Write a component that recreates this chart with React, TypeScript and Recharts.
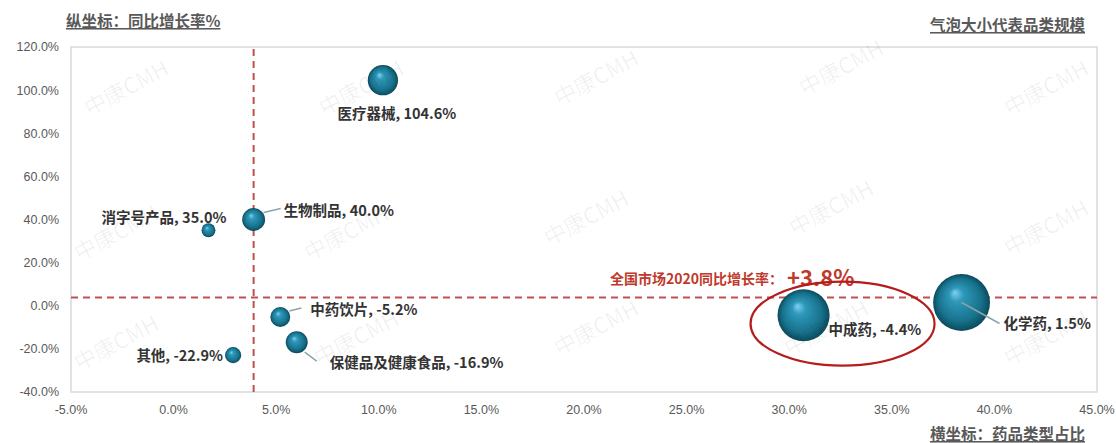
import React from 'react';
import {
  ScatterChart,
  Scatter,
  XAxis,
  YAxis,
  ZAxis,
  ReferenceLine,
  ReferenceDot,
  ReferenceArea,
} from 'recharts';

const categories = ['化学药', '中成药', '医疗器械', '生物制品', '中药饮片', '保健品及健康食品', '消字号产品', '其他'];
const share = [38.4, 30.7, 10.2, 3.9, 5.2, 6.0, 1.7, 2.9];
const growth = [1.5, -4.4, 104.6, 40.0, -5.2, -16.9, 35.0, -22.9];
const marketScale = [37, 31, 10.5, 6, 4.5, 5.5, 2.2, 3];
const xTicks = [-5, 0, 5, 10, 15, 20, 25, 30, 35, 40, 45];
const yTicks = [-40, -20, 0, 20, 40, 60, 80, 100, 120];
const marketGrowth = 3.8;
const avgShare = 3.9;

const data = categories.map((name, i) => ({
  name,
  x: share[i],
  y: growth[i],
  z: marketScale[i],
}));

// label placement relative to bubble centre (px)
const labelLayout: Record<string, { dx: number; dy: number; anchor: 'start' | 'middle' | 'end'; lead?: number[] }> = {
  化学药: { dx: 42, dy: 20, anchor: 'start', lead: [0, 0, 38, 21] },
  中成药: { dx: 25, dy: 13, anchor: 'start' },
  医疗器械: { dx: 14, dy: 32, anchor: 'middle' },
  生物制品: { dx: 30, dy: -10, anchor: 'start', lead: [10, -7, 27, -11] },
  中药饮片: { dx: 30, dy: -8, anchor: 'start', lead: [9, -6, 21, -9] },
  保健品及健康食品: { dx: 33, dy: 19, anchor: 'start', lead: [8, 10, 20, 19] },
  消字号产品: { dx: 18, dy: -14, anchor: 'end' },
  其他: { dx: -10, dy: -1, anchor: 'end' },
};

const FONT = '"Noto Sans CJK SC", "Noto Sans", sans-serif';
const pct = (v: number) => `${v.toFixed(1)}%`;

const Bubble = (props: any) => {
  const { cx, cy, width, payload } = props;
  const r = width / 2;
  const lay = labelLayout[payload.name];
  return (
    <g>
      <circle cx={cx} cy={cy} r={r} fill="url(#ball)" />
      {lay.lead && (
        <line
          x1={cx + lay.lead[0]}
          y1={cy + lay.lead[1]}
          x2={cx + lay.lead[2]}
          y2={cy + lay.lead[3]}
          stroke="#8aa4ad"
          strokeWidth={1.5}
        />
      )}
      <text
        x={cx + lay.dx}
        y={cy + lay.dy}
        textAnchor={lay.anchor}
        dominantBaseline="central"
        fontFamily={FONT}
        fontWeight={700}
        fontSize={14.5}
        fill="#333"
      >
        {`${payload.name}, ${pct(payload.y)}`}
      </text>
    </g>
  );
};

const watermarks = [
  [130, 95], [365, 95], [600, 85], [845, 75], [1050, 95],
  [120, 240], [350, 240], [590, 225], [835, 215], [1050, 235],
  [120, 350], [360, 345], [600, 335], [830, 335], [1050, 345],
];

export default function App() {
  return (
    <div style={{ position: 'absolute', left: 0, top: 0, width: 1116, height: 443, background: '#fff' }}>
      <ScatterChart width={1116} height={443} margin={{ top: 47, right: 19, bottom: 25, left: 9 }}>
        <defs>
          <radialGradient id="ball" cx="50%" cy="50%" r="50%" fx="38%" fy="32%">
            <stop offset="0%" stopColor="#7fd3f2" />
            <stop offset="25%" stopColor="#2f98bb" />
            <stop offset="75%" stopColor="#17728c" />
            <stop offset="100%" stopColor="#0c4a5c" />
          </radialGradient>
        </defs>
        <XAxis
          type="number"
          dataKey="x"
          domain={[-5, 45]}
          ticks={xTicks}
          tickFormatter={pct}
          axisLine={false}
          tickLine={false}
          tickSize={0}
          tickMargin={13}
          height={26}
          tick={{ fontSize: 12.5, fill: '#595959', fontFamily: '"Liberation Sans Narrow", "Liberation Sans", sans-serif' }}
        />
        <YAxis
          type="number"
          dataKey="y"
          domain={[-40, 120]}
          ticks={yTicks}
          tickFormatter={pct}
          axisLine={false}
          tickLine={false}
          tickSize={0}
          tickMargin={12}
          width={62}
          tick={{ fontSize: 12.5, fill: '#595959', fontFamily: '"Liberation Sans", sans-serif' }}
        />
        <ZAxis type="number" dataKey="z" domain={[0, 40]} range={[0, 2750]} />
        <ReferenceArea x1={-5} x2={45} y1={-40} y2={120} fill="none" stroke="#d9d9d9" strokeWidth={1.5} />
        <ReferenceLine x={avgShare} stroke="#c0504d" strokeWidth={2} strokeDasharray="7 5" />
        <ReferenceLine y={marketGrowth} stroke="#c0504d" strokeWidth={2} strokeDasharray="7 5" />
        <ReferenceDot
          x={29.8}
          y={marketGrowth}
          r={0}
          ifOverflow="visible"
          shape={(p: any) => (
            <g fontFamily={FONT} fontWeight={700} fill="#c0392b">
              <text x={p.cx - 2} y={p.cy - 14} textAnchor="end" fontSize={14}>
                全国市场2020同比增长率：
              </text>
              <text x={p.cx + 2} y={p.cy - 12} textAnchor="start" fontSize={22}>
                {`+${pct(marketGrowth)}`}
              </text>
            </g>
          )}
        />
        <Scatter data={data} shape={Bubble} isAnimationActive={false} />
        <ReferenceDot
          x={32.6}
          y={-8.3}
          r={0}
          ifOverflow="visible"
          shape={(p: any) => (
            <ellipse cx={p.cx} cy={p.cy} rx={92} ry={42} fill="none" stroke="#b51c1c" strokeWidth={2.2} />
          )}
        />
      </ScatterChart>
      <svg
        width={1116}
        height={443}
        style={{ position: 'absolute', left: 0, top: 0, pointerEvents: 'none' }}
      >
        {watermarks.map(([x, y], i) => (
          <text
            key={i}
            x={x}
            y={y}
            textAnchor="middle"
            fontFamily={FONT}
            fontSize={22}
            fill="rgba(0,0,0,0.06)"
            transform={`rotate(-28 ${x} ${y})`}
          >
            中康CMH
          </text>
        ))}
        <text x={66} y={27} fontFamily={FONT} fontWeight={700} fontSize={15.5} fill="#595959" style={{ textDecoration: 'underline' }}>
          纵坐标：同比增长率%
        </text>
        <text x={1085} y={31} textAnchor="end" fontFamily={FONT} fontWeight={700} fontSize={15.5} fill="#595959" style={{ textDecoration: 'underline' }}>
          气泡大小代表品类规模
        </text>
        <text x={1085} y={440} textAnchor="end" fontFamily={FONT} fontWeight={700} fontSize={15.5} fill="#595959" style={{ textDecoration: 'underline' }}>
          横坐标：药品类型占比
        </text>
      </svg>
    </div>
  );
}
